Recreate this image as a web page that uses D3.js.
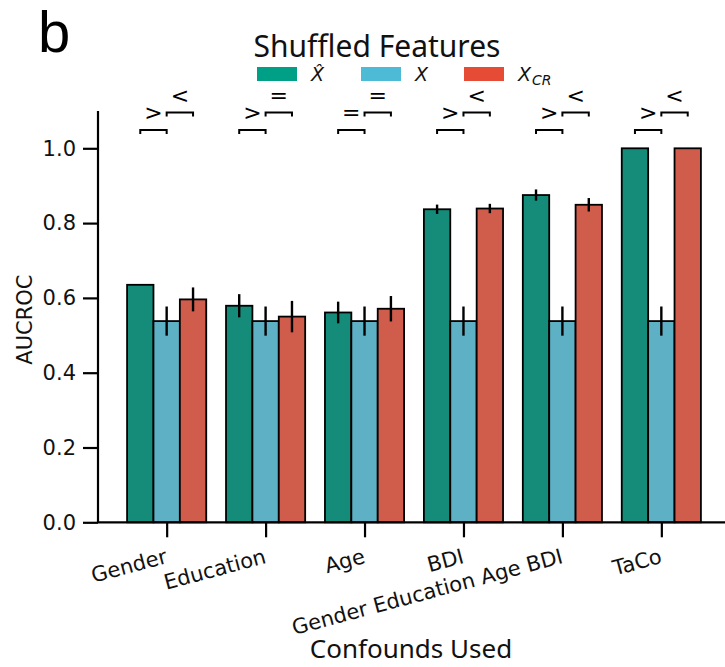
<!DOCTYPE html>
<html>
<head>
<meta charset="utf-8">
<script src="https://cdn.jsdelivr.net/npm/d3@7"></script>
<style>
  html, body { margin: 0; padding: 0; background: #fff; }
  svg { display: block; }
</style>
</head>
<body>
<svg id="chart" width="725" height="667"></svg>
<script>
// ---- data ----
const categories = ["Gender", "Education", "Age", "BDI", "Gender Education Age BDI", "TaCo"];
const seriesNames = ["Xhat", "X", "XCR"];
const xhatValues = [0.635, 0.579, 0.561, 0.837, 0.875, 1.0];
const xhatErrors = [0.0, 0.031, 0.029, 0.0125, 0.015, 0.0];
const xValues = [0.538, 0.538, 0.538, 0.538, 0.538, 0.538];
const xErrors = [0.039, 0.039, 0.039, 0.039, 0.039, 0.039];
const xcrValues = [0.596, 0.550, 0.571, 0.839, 0.849, 1.0];
const xcrErrors = [0.032, 0.042, 0.034, 0.0125, 0.018, 0.0];
const sigLower = [">", ">", "=", ">", ">", ">"];   // Xhat vs X
const sigUpper = ["<", "=", "=", "<", "<", "<"];   // X vs XCR
const yTicks = [0.0, 0.2, 0.4, 0.6, 0.8, 1.0];

const barColors = ["#148C79", "#5EB0C4", "#D05C4B"];
const legendColors = ["#00A087", "#4DBBD5", "#E64B35"];

const svg = d3.select("#chart");
const tickFont = "'DejaVu Sans', sans-serif";
const titleFont = "'Noto Sans', 'Open Sans', sans-serif";

const y = d3.scaleLinear().domain([0, 1.1]).range([522.3, 110.9]);
const x = d3.scaleLinear().domain([-0.694, 5.694]).range([98, 730]);
const bw = x(0.8 / 3) - x(0);

const series = [
  { vals: xhatValues, errs: xhatErrors },
  { vals: xValues, errs: xErrors },
  { vals: xcrValues, errs: xcrErrors }
];

// ---- bars ----
const bars = svg.append("g");
series.forEach((s, si) => {
  s.vals.forEach((v, i) => {
    const cx = x(i) + (si - 1) * bw;
    bars.append("rect")
      .attr("x", cx - bw / 2)
      .attr("y", y(v))
      .attr("width", bw)
      .attr("height", y(0) - y(v))
      .attr("fill", barColors[si])
      .attr("stroke", "#000")
      .attr("stroke-width", 1.8);
  });
});
// ---- error bars ----
series.forEach((s, si) => {
  s.vals.forEach((v, i) => {
    const e = s.errs[i];
    if (e <= 0) return;
    const cx = x(i) + (si - 1) * bw;
    bars.append("line")
      .attr("x1", cx).attr("x2", cx)
      .attr("y1", y(v - e)).attr("y2", y(v + e))
      .attr("stroke", "#000").attr("stroke-width", 2.4);
  });
});

// ---- axes ----
const yAxis = svg.append("g").attr("transform", "translate(98,0)")
  .call(d3.axisLeft(y).tickValues(yTicks).tickFormat(d3.format(".1f")).tickSize(15).tickPadding(7));
yAxis.select(".domain").attr("d", `M0,${y(1.1)}V${y(0)}`).attr("stroke-width", 2.2);
yAxis.selectAll(".tick line").attr("stroke-width", 2.2);
yAxis.selectAll(".tick text").attr("font-family", tickFont).attr("font-size", 21).attr("fill", "#111");

const xAxis = svg.append("g").attr("transform", `translate(0,${y(0)})`)
  .call(d3.axisBottom(x).tickValues(d3.range(categories.length)).tickFormat(i => categories[i]).tickSize(15));
xAxis.select(".domain").attr("d", `M98,0H725`).attr("stroke-width", 2.2);
xAxis.selectAll(".tick line").attr("stroke-width", 2.2);
xAxis.selectAll(".tick text")
  .attr("font-family", tickFont).attr("font-size", 21).attr("fill", "#111")
  .attr("text-anchor", "end")
  .attr("y", 0).attr("dy", "0.76em")
  .attr("transform", "translate(-3,25) rotate(-15)");

// axis labels
svg.append("text")
  .attr("transform", `translate(32,${(y(0) + y(1.1)) / 2 + 3}) rotate(-90)`)
  .attr("text-anchor", "middle")
  .attr("font-family", tickFont).attr("font-size", 21).attr("fill", "#111")
  .text("AUCROC");
svg.append("text")
  .attr("x", 411).attr("y", 658)
  .attr("text-anchor", "middle")
  .attr("font-family", titleFont).attr("font-size", 26).attr("fill", "#111")
  .text("Confounds Used");

// panel letter
svg.append("text")
  .attr("x", 38).attr("y", 52)
  .attr("font-family", "'Liberation Sans', Arial, sans-serif").attr("font-size", 58).attr("fill", "#000")
  .text("b");

// ---- legend ----
svg.append("text")
  .attr("x", 377).attr("y", 57)
  .attr("text-anchor", "middle")
  .attr("font-family", titleFont).attr("font-size", 30).attr("fill", "#111")
  .text("Shuffled Features");
const legX = [257, 361, 464];
const lg = svg.append("g");
seriesNames.forEach((n, i) => {
  lg.append("rect").attr("x", legX[i]).attr("y", 67).attr("width", 40).attr("height", 14)
    .attr("fill", legendColors[i]);
  const t = lg.append("text").attr("x", legX[i] + 54).attr("y", 81)
    .attr("font-family", tickFont).attr("font-style", "italic").attr("font-size", 19).attr("fill", "#111");
  if (n === "Xhat") {
    t.text("X\u0302");
  } else if (n === "X") {
    t.text("X");
  } else {
    t.append("tspan").text("X");
    t.append("tspan").attr("font-size", 14).attr("dy", 4).attr("dx", 1).text("CR");
  }
});

// ---- significance brackets ----
const sg = svg.append("g");
function bracket(x1, x2, yy, sym) {
  sg.append("path")
    .attr("d", `M${x1},${yy + 4}V${yy}H${x2}V${yy + 4}`)
    .attr("fill", "none").attr("stroke", "#000").attr("stroke-width", 2);
  sg.append("text")
    .attr("x", (x1 + x2) / 2).attr("y", yy - 10)
    .attr("text-anchor", "middle")
    .attr("font-family", tickFont).attr("font-size", 22).attr("fill", "#000")
    .text(sym);
}
categories.forEach((c, i) => {
  const c0 = x(i);
  bracket(c0 - bw, c0, 130, sigLower[i]);
  bracket(c0, c0 + bw, 112.5, sigUpper[i]);
});
</script>
</body>
</html>
